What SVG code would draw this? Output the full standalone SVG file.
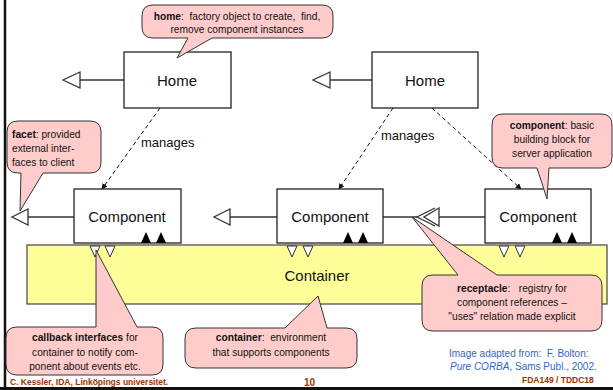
<svg xmlns="http://www.w3.org/2000/svg" width="613" height="390" viewBox="0 0 613 390">
<defs>
<style>
.box{fill:#fff;stroke:#222;stroke-width:1.3}
.lbl{font-family:"Liberation Sans",Arial,sans-serif;font-size:15px;fill:#111;text-anchor:middle}
.bub{fill:#ffcccc;stroke:#333;stroke-width:1}
.bt{font-family:"Liberation Sans",Arial,sans-serif;font-size:10.2px;fill:#111;white-space:pre}
.mg{font-family:"Liberation Sans",Arial,sans-serif;font-size:13px;fill:#111}
.c{text-anchor:middle}
.ln{stroke:#333;stroke-width:1.3;fill:none}
.dash{stroke:#111;stroke-width:1;stroke-dasharray:4,3;fill:none}
.ohead{fill:#fff;stroke:#333;stroke-width:1.3}
.fill{fill:#000}
.wt{fill:#fff;stroke:#333;stroke-width:1}
.foot{font-family:"Liberation Sans",Arial,sans-serif;font-size:8.5px;font-weight:bold;fill:#993300}
.blue{font-family:"Liberation Sans",Arial,sans-serif;font-size:10px;fill:#3366cc;white-space:pre}
</style>
<marker id="sm" viewBox="0 0 8 8" refX="7" refY="4" markerWidth="6" markerHeight="6" orient="auto" markerUnits="userSpaceOnUse">
<path d="M0,0 L8,4 L0,8 Z" fill="#111"/>
</marker>
</defs>
<rect width="613" height="390" fill="#fff"/>
<line x1="5" y1="0" x2="5" y2="390" stroke="#111" stroke-width="2.5"/>
<line x1="0" y1="388.5" x2="613" y2="388.5" stroke="#111" stroke-width="3"/>

<g id="container">
<rect x="27" y="245" width="580" height="59" fill="#ffff99" stroke="#444" stroke-width="1.2"/>
<text class="lbl" x="317" y="281">Container</text>
</g>

<g id="connectors">
<line class="ln" x1="124" y1="80" x2="80" y2="80"/>
<polygon class="ohead" points="80,72 63,80 80,88"/>
<line class="ln" x1="372" y1="80" x2="330" y2="80"/>
<polygon class="ohead" points="330,72 313,80 330,88"/>
<line class="ln" x1="74" y1="217" x2="28" y2="217"/>
<polygon class="ohead" points="28,209 12,217 28,225"/>
<line class="ln" x1="277" y1="217" x2="230" y2="217"/>
<polygon class="ohead" points="230,209 214,217 230,225"/>
<line class="ln" x1="485" y1="217" x2="439" y2="217"/>
<line class="ln" x1="383" y1="217" x2="417" y2="217"/>
<polygon class="ohead" points="439,208 424,217 439,226"/>
<polyline class="ln" points="435,208 417,217 435,226"/>
<line class="dash" x1="160" y1="108" x2="102" y2="189" marker-end="url(#sm)"/>
<line class="dash" x1="393" y1="108" x2="339" y2="189" marker-end="url(#sm)"/>
<line class="dash" x1="432" y1="108" x2="521" y2="189" marker-end="url(#sm)"/>
<text class="mg" x="141" y="147">manages</text>
<text class="mg" x="381" y="140">manages</text>
</g>

<g id="home1">
<rect class="box" x="124" y="52" width="107" height="56"/>
<text class="lbl" x="177" y="86">Home</text>
</g>
<g id="home2">
<rect class="box" x="372" y="52" width="106" height="56"/>
<text class="lbl" x="425" y="86">Home</text>
</g>

<g id="component1">
<rect class="box" x="74" y="189" width="107" height="54"/>
<text class="lbl" x="127" y="222">Component</text>
<polygon class="fill" points="141,243 146,232 151,243"/>
<polygon class="fill" points="156,243 161,232 166,243"/>
<polygon class="wt" points="90,246 100,246 95,257"/>
<polygon class="wt" points="105,246 115,246 110,257"/>
</g>
<g id="component2">
<rect class="box" x="277" y="189" width="106" height="54"/>
<text class="lbl" x="330" y="222">Component</text>
<polygon class="fill" points="343,243 348,232 353,243"/>
<polygon class="fill" points="358,243 363,232 368,243"/>
<polygon class="wt" points="287,246 297,246 292,257"/>
<polygon class="wt" points="303,246 313,246 308,257"/>
</g>
<g id="component3">
<rect class="box" x="485" y="189" width="106" height="54"/>
<text class="lbl" x="538" y="222">Component</text>
<polygon class="fill" points="552,243 557,232 562,243"/>
<polygon class="fill" points="567,243 572,232 577,243"/>
<polygon class="wt" points="499,246 509,246 504,257"/>
<polygon class="wt" points="515,246 525,246 520,257"/>
</g>

<g id="home-note">
<path class="bub" d="M153,5 H322 Q333,5 333,16 V27 Q333,38 322,38 H212 L177,58 L188,38 H153 Q142,38 142,27 V16 Q142,5 153,5 Z"/>
<text class="bt c" x="237" y="20"><tspan font-weight="bold">home</tspan>:  factory object to create,  find,</text>
<text class="bt c" x="237" y="33">remove component instances</text>
</g>

<g id="facet-note">
<path class="bub" d="M18,121 H90 Q101,121 101,132 V162 Q101,173 90,173 H43 L20,211 L21,173 H18 Q7,173 7,162 V132 Q7,121 18,121 Z"/>
<text class="bt" x="12" y="138"><tspan font-weight="bold">facet</tspan>: provided</text>
<text class="bt" x="12" y="152">external inter-</text>
<text class="bt" x="12" y="166">faces to client</text>
</g>

<g id="component-note">
<path class="bub" d="M503,114 H601 Q612,114 612,125 V157 Q612,168 601,168 H549 L547,199 L537,168 H503 Q492,168 492,157 V125 Q492,114 503,114 Z"/>
<text class="bt c" x="552" y="129"><tspan font-weight="bold">component</tspan>: basic</text>
<text class="bt c" x="552" y="143">building block for</text>
<text class="bt c" x="552" y="157">server application</text>
</g>

<g id="callback-note">
<path class="bub" d="M17,327 H96 L96,250 L137,327 H152 Q163,327 163,338 V364 Q163,375 152,375 H17 Q6,375 6,364 V338 Q6,327 17,327 Z"/>
<text class="bt c" x="85" y="341"><tspan font-weight="bold">callback interfaces</tspan> for</text>
<text class="bt c" x="85" y="356">container to notify com-</text>
<text class="bt c" x="85" y="370">ponent about events etc.</text>
</g>

<g id="container-note">
<path class="bub" d="M196,328 H285 L318,296 L327,328 H346 Q357,328 357,339 V357 Q357,368 346,368 H196 Q185,368 185,357 V339 Q185,328 196,328 Z"/>
<text class="bt c" x="271" y="341"><tspan font-weight="bold">container</tspan>:  environment</text>
<text class="bt c" x="271" y="356">that supports components</text>
</g>

<g id="receptacle-note">
<path class="bub" d="M433,275 H458 L412,217 L497,275 H591 Q602,275 602,286 V320 Q602,331 591,331 H433 Q422,331 422,320 V286 Q422,275 433,275 Z"/>
<text class="bt c" x="512" y="292"><tspan font-weight="bold">receptacle</tspan>:   registry for</text>
<text class="bt c" x="512" y="306">component references –</text>
<text class="bt c" x="512" y="320">"uses" relation made explicit</text>
</g>

<text class="blue" x="449" y="357">Image adapted from:  F. Bolton:</text>
<text class="blue" x="450" y="370"><tspan font-style="italic">Pure CORBA</tspan>, Sams Publ., 2002.</text>
<text class="foot" x="10" y="385">C. Kessler, IDA, Linköpings universitet.</text>
<text class="foot" x="304" y="386" style="font-size:10px">10</text>
<text class="foot" x="522" y="383">FDA149 / TDDC18</text>
</svg>
